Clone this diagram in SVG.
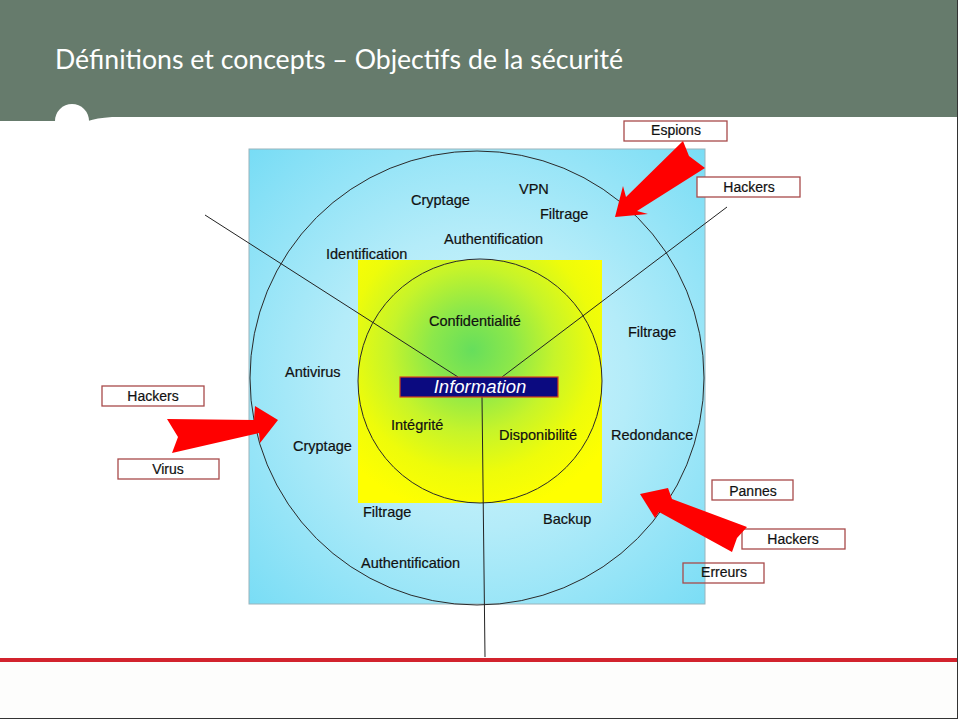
<svg xmlns="http://www.w3.org/2000/svg" width="958" height="719" viewBox="0 0 958 719">
  <style>
    .lbl { font-family: "Liberation Sans", Arial, sans-serif; font-size: 14.5px; fill: #111; stroke: #111; stroke-width: 0.2; }
    .tag { font-family: "Liberation Sans", Arial, sans-serif; font-size: 14px; fill: #111; stroke: #111; stroke-width: 0.2; text-anchor: middle; }
    .box { fill: #fff; stroke: #a84a4a; stroke-width: 1.3; }
    .ring { fill: none; stroke: #2a2a2a; stroke-width: 1; }
    .spoke { stroke: #222; stroke-width: 1; fill: none; }
    .threat { fill: #ff0000; }
  </style>
  <defs>
    <radialGradient id="skyFill" cx="480" cy="380" r="330" gradientUnits="userSpaceOnUse">
      <stop offset="0" stop-color="#d6f6fc"/>
      <stop offset="0.45" stop-color="#b4ecf9"/>
      <stop offset="1" stop-color="#76dcf5"/>
    </radialGradient>
    <radialGradient id="coreFill" cx="472" cy="350" r="165" gradientUnits="userSpaceOnUse">
      <stop offset="0" stop-color="#66de5c"/>
      <stop offset="0.25" stop-color="#8ce84a"/>
      <stop offset="0.5" stop-color="#c6f42a"/>
      <stop offset="0.75" stop-color="#eefc0a"/>
      <stop offset="1" stop-color="#ffff00"/>
    </radialGradient>
  </defs>

  <!-- page background -->
  <rect x="0" y="0" width="958" height="719" fill="#ffffff"/>
  <rect x="0" y="662" width="957" height="56" fill="#fdfdfc"/>

  <!-- title bar -->
  <g id="header">
    <path d="M0,0 H957 V117 H112 Q96,118 88,121 H0 Z" fill="#667b6c"/>
    <circle cx="72" cy="121" r="17" fill="#ffffff"/>
    <text x="55" y="69" font-family="Lato, 'Open Sans', sans-serif" font-size="26" fill="#ffffff" textLength="568" lengthAdjust="spacingAndGlyphs">Définitions et concepts – Objectifs de la sécurité</text>
  </g>

  <!-- outer protection zone -->
  <g id="zone-outer">
    <rect x="249" y="149" width="456" height="455" fill="url(#skyFill)" stroke="#9ab4bc" stroke-width="1"/>
    <circle class="ring" cx="477" cy="378" r="227"/>
  </g>

  <!-- core: the three objectives -->
  <g id="zone-core">
    <rect x="358" y="260" width="244" height="243" fill="url(#coreFill)"/>
    <circle class="ring" cx="480" cy="381" r="122"/>
  </g>

  <!-- dividing spokes -->
  <g id="connectors">
    <line class="spoke" x1="205" y1="215" x2="458" y2="377"/>
    <line class="spoke" x1="727" y1="207" x2="502" y2="377"/>
    <line class="spoke" x1="482" y1="397" x2="485" y2="657"/>
  </g>

  <g id="information">
    <rect x="400" y="377" width="158" height="20" fill="#0b0a80" stroke="#d8401c" stroke-width="1.2"/>
    <text x="480" y="393" font-family="'Liberation Sans', Arial, sans-serif" font-size="18.5" font-style="italic" fill="#ffffff" text-anchor="middle">Information</text>
  </g>

  <!-- objectives -->
  <g id="objectives">
    <text class="lbl" x="429" y="326">Confidentialité</text>
    <text class="lbl" x="391" y="430">Intégrité</text>
    <text class="lbl" x="499" y="440">Disponibilité</text>
  </g>

  <!-- countermeasures -->
  <g id="measures">
    <text class="lbl" x="411" y="205">Cryptage</text>
    <text class="lbl" x="519" y="194">VPN</text>
    <text class="lbl" x="540" y="219">Filtrage</text>
    <text class="lbl" x="444" y="244">Authentification</text>
    <text class="lbl" x="326" y="259">Identification</text>
    <text class="lbl" x="628" y="337">Filtrage</text>
    <text class="lbl" x="285" y="377">Antivirus</text>
    <text class="lbl" x="293" y="451">Cryptage</text>
    <text class="lbl" x="611" y="440">Redondance</text>
    <text class="lbl" x="363" y="517">Filtrage</text>
    <text class="lbl" x="543" y="524">Backup</text>
    <text class="lbl" x="361" y="568">Authentification</text>
  </g>

  <!-- threat labels -->
  <g id="threat-espions">
    <rect class="box" x="624" y="121" width="103" height="20"/>
    <text class="tag" x="676" y="135">Espions</text>
  </g>
  <g id="threat-hackers-top">
    <rect class="box" x="697" y="177" width="103" height="20"/>
    <text class="tag" x="749" y="192">Hackers</text>
  </g>
  <g id="threat-hackers-left">
    <rect class="box" x="102" y="386" width="102" height="20"/>
    <text class="tag" x="153" y="401">Hackers</text>
  </g>
  <g id="threat-virus">
    <rect class="box" x="118" y="459" width="101" height="20"/>
    <text class="tag" x="168" y="474">Virus</text>
  </g>
  <g id="threat-pannes">
    <rect class="box" x="712" y="480" width="81" height="20"/>
    <text class="tag" x="753" y="496">Pannes</text>
  </g>
  <g id="threat-hackers-bottom">
    <rect class="box" x="742" y="529" width="103" height="20"/>
    <text class="tag" x="793" y="544">Hackers</text>
  </g>
  <g id="threat-erreurs">
    <rect x="683" y="563" width="81" height="20" fill="none" stroke="#a84a4a" stroke-width="1.3"/>
    <text class="tag" x="724" y="577">Erreurs</text>
  </g>

  <!-- attack arrows -->
  <g id="attacks">
    <polygon class="threat" points="615,217 623,186 626,197 683,141 689,156 705,168 637,211 648,214"/>
    <polygon class="threat" points="278,420 260,443 259,433 172,453 178,437 167,419 254,420 255,406"/>
    <polygon class="threat" points="640,494 668,488 672,499 747,527 737,538 732,552 659,512 655,518"/>
  </g>

  <!-- footer rule and frame -->
  <rect x="0" y="658" width="957" height="4" fill="#d2232d"/>
  <line x1="957.5" y1="0" x2="957.5" y2="719" stroke="#333" stroke-width="1"/>
  <line x1="0" y1="718.5" x2="958" y2="718.5" stroke="#333" stroke-width="1"/>
</svg>
